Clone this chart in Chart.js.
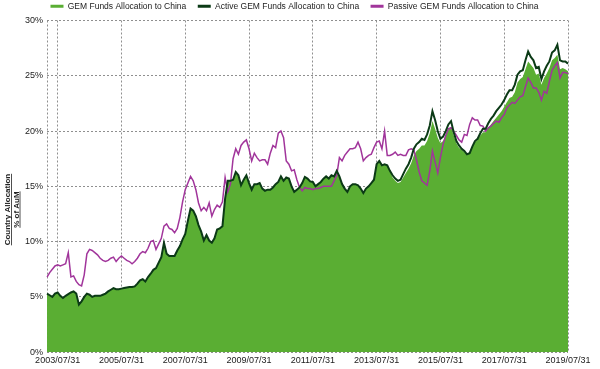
<!DOCTYPE html>
<html lang="en">
<head>
<meta charset="UTF-8">
<title>GEM Funds Allocation to China</title>
<script src="https://cdn.jsdelivr.net/npm/chart.js"></script>
<style>
  html, body { margin: 0; padding: 0; background: #fff; }
  .wrap { width: 600px; height: 369px; position: relative; }
</style>
</head>
<body>
<div class="wrap"><canvas id="chart"></canvas></div>
<script>
// monthly month-end data, 2003/03/31 .. 2019/07/31
const startYear = 2003;
const startMonth = 3;
const tickLabels = ['2003/07/31', '2005/07/31', '2007/07/31', '2009/07/31', '2011/07/31',
                    '2013/07/31', '2015/07/31', '2017/07/31', '2019/07/31'];
const axisTitleLines = ['Country Allocation', '% of AuM'];

const gemFunds = [
  5.3,5.15,5.0,5.3,5.4,5.1,4.9,5.1,5.25,5.4,
  5.5,5.3,4.3,4.6,5.0,5.3,5.2,5.0,5.1,5.1,
  5.1,5.2,5.3,5.5,5.65,5.8,5.7,5.7,5.75,5.8,
  5.85,5.9,5.9,5.95,6.2,6.5,6.6,6.4,6.8,7.1,
  7.45,7.6,8.1,8.6,9.9,8.9,8.7,8.7,8.7,9.2,
  9.6,10.2,10.7,11.9,13.0,12.8,12.3,11.5,10.9,10.1,
  10.6,10.1,9.9,10.3,11.1,11.2,11.4,13.9,15.5,15.5,
  15.6,16.3,16.0,15.1,15.6,16.0,15.3,14.7,15.2,15.2,
  15.3,14.8,14.6,14.7,14.7,14.9,15.2,15.4,15.9,15.5,
  15.8,15.7,15.0,14.5,14.7,14.9,15.3,15.85,15.7,15.45,
  15.4,15.0,15.2,15.4,15.7,15.9,15.7,16.0,15.9,16.4,
  15.9,15.2,14.8,14.5,15.0,15.2,15.2,15.1,14.8,14.4,
  14.8,15.0,15.3,15.6,17.0,17.3,16.9,17.0,16.9,16.4,
  15.8,15.5,15.3,15.4,15.8,16.2,16.6,17.1,17.8,18.2,
  18.4,18.7,18.7,19.1,19.8,20.9,20.2,19.4,18.9,19.1,
  19.6,20.1,20.4,19.6,18.9,18.5,18.3,18.1,17.9,18.0,
  18.6,19.0,19.2,19.6,19.9,19.9,20.3,20.6,20.9,21.2,
  21.5,21.8,22.2,22.6,23.0,23.1,23.5,24.4,24.7,24.9,
  25.6,26.3,26.0,25.7,25.1,25.2,24.2,24.8,25.2,25.7,
  26.4,26.6,26.9,25.6,25.7,25.6,25.4
];

const activeGem = [
  5.3,5.15,5.0,5.3,5.4,5.1,4.9,5.1,5.25,5.4,
  5.5,5.3,4.3,4.6,5.0,5.3,5.2,5.0,5.1,5.1,
  5.1,5.2,5.3,5.5,5.65,5.8,5.7,5.7,5.75,5.8,
  5.85,5.9,5.9,5.95,6.2,6.5,6.6,6.4,6.8,7.1,
  7.45,7.6,8.1,8.6,9.9,8.9,8.7,8.7,8.7,9.2,
  9.6,10.2,10.7,11.9,13.0,12.8,12.3,11.5,10.9,10.1,
  10.6,10.1,9.9,10.3,11.1,11.2,11.4,13.9,15.5,15.5,
  15.6,16.3,16.0,15.1,15.6,16.0,15.3,14.7,15.2,15.2,
  15.3,14.8,14.6,14.7,14.7,14.9,15.2,15.4,15.9,15.5,
  15.8,15.7,15.0,14.5,14.7,14.9,15.3,15.85,15.7,15.45,
  15.4,15.0,15.2,15.4,15.7,15.9,15.7,16.0,15.9,16.4,
  15.9,15.2,14.8,14.5,15.0,15.2,15.2,15.1,14.8,14.4,
  14.8,15.0,15.3,15.6,17.0,17.3,16.9,17.0,16.9,16.4,
  16.0,15.7,15.5,15.6,16.1,16.6,17.0,17.6,18.4,18.8,
  19.0,19.3,19.2,19.7,20.5,21.8,21.0,20.0,19.3,19.5,
  20.0,20.6,20.9,19.9,19.1,18.7,18.4,18.2,17.9,18.0,
  18.6,19.1,19.3,19.8,20.2,20.2,20.7,21.1,21.4,21.8,
  22.1,22.4,22.8,23.3,23.7,23.7,24.2,25.1,25.4,25.5,
  26.4,27.2,26.7,26.4,25.7,25.8,24.7,25.4,25.9,26.3,
  27.1,27.3,27.8,26.4,26.3,26.3,26.1
];

const passiveGem = [
  6.8,7.2,7.5,7.8,7.9,7.8,7.9,8.0,9.0,6.8,
  6.9,6.4,6.1,6.0,7.0,8.9,9.3,9.2,9.0,8.8,
  8.5,8.3,8.2,8.3,8.5,8.6,8.2,8.5,8.7,8.5,
  8.3,8.2,8.0,8.2,8.5,8.9,9.1,9.0,9.4,10.0,
  10.1,9.3,9.8,10.3,11.4,11.6,11.2,11.1,10.8,11.2,
  12.2,13.6,14.7,15.3,15.9,15.5,14.7,13.5,12.8,13.1,
  12.8,13.5,12.3,12.9,13.3,13.1,13.6,15.8,14.5,15.2,
  17.5,18.4,17.9,18.7,19.0,19.2,18.4,17.3,18.0,17.6,
  17.3,17.4,17.4,17.0,18.0,18.7,18.5,19.8,20.0,19.4,
  17.3,17.0,16.4,16.5,15.6,14.9,14.6,14.9,14.8,14.8,
  14.7,14.8,14.8,14.9,15.0,15.0,15.0,15.0,15.5,16.0,
  17.6,17.3,17.8,18.1,18.4,18.4,18.5,19.0,18.4,17.3,
  17.6,17.8,17.9,18.5,19.0,19.1,18.4,20.0,17.8,17.8,
  17.9,18.1,17.8,17.9,17.8,17.8,18.3,18.4,18.3,17.4,
  16.3,15.5,15.3,15.1,16.4,18.2,17.2,16.2,17.6,18.8,
  19.6,20.2,20.3,20.0,19.6,19.2,19.0,19.7,19.6,20.6,
  21.2,21.0,21.0,20.5,20.45,20.0,20.3,20.45,20.7,20.9,
  20.8,21.2,21.5,22.1,22.35,22.6,22.5,22.8,23.1,23.2,
  24.0,24.8,24.4,23.9,23.9,23.5,22.8,23.6,23.4,24.5,
  25.5,25.9,26.2,24.8,25.3,25.3,25.2
];

// month-end category labels
const months = [];
for (let i = 0; i < activeGem.length; i++) {
  const y = startYear + Math.floor((startMonth - 1 + i) / 12);
  const m = (startMonth - 1 + i) % 12 + 1;
  const d = new Date(y, m, 0).getDate();
  months.push(y + '/' + String(m).padStart(2, '0') + '/' + String(d).padStart(2, '0'));
}

const gridGrey = '#8f8f8f';
const textCol = '#222';
const fontFam = "'Liberation Sans', Arial, sans-serif";

// rotated, underlined y axis title, sitting a bit below the middle like the original
const axisTitle = {
  id: 'axisTitle',
  afterDraw(chart) {
    const ctx = chart.ctx;
    const area = chart.chartArea;
    const cy = area.top + (area.bottom - area.top) * 0.57;
    ctx.save();
    ctx.font = 'bold 8px ' + fontFam;
    ctx.fillStyle = textCol;
    ctx.strokeStyle = textCol;
    ctx.lineWidth = 0.8;
    ctx.textAlign = 'center';
    ctx.textBaseline = 'alphabetic';
    axisTitleLines.forEach((t, k) => {
      const x = 10 + k * 8.5;
      ctx.save();
      ctx.translate(x, cy);
      ctx.rotate(-Math.PI / 2);
      ctx.fillText(t, 0, 0);
      const w = ctx.measureText(t).width;
      ctx.beginPath();
      ctx.moveTo(-w / 2, 1.5);
      ctx.lineTo(w / 2, 1.5);
      ctx.stroke();
      ctx.restore();
    });
    ctx.restore();
  }
};

const legendGap = '    ';

new Chart(document.getElementById('chart'), {
  type: 'line',
  data: {
    labels: months,
    datasets: [
      {
        label: 'GEM Funds Allocation to China',
        data: gemFunds,
        borderWidth: 0,
        borderColor: '#5aae33',
        backgroundColor: '#5aae33',
        fill: 'origin',
        pointRadius: 0
      },
      {
        label: 'Active GEM Funds Allocation to China',
        data: activeGem,
        borderColor: '#0b3a16',
        backgroundColor: '#0b3a16',
        borderWidth: 2,
        fill: false,
        pointRadius: 0
      },
      {
        label: 'Passive GEM Funds Allocation to China',
        data: passiveGem,
        borderColor: '#a1359b',
        backgroundColor: '#a1359b',
        borderWidth: 1.5,
        fill: false,
        pointRadius: 0
      }
    ]
  },
  plugins: [axisTitle],
  options: {
    responsive: true,
    maintainAspectRatio: false,
    animation: false,
    layout: { padding: { left: 21, right: 32, top: 0, bottom: 0 } },
    plugins: {
      filler: { drawTime: 'beforeDatasetsDraw' },
      tooltip: { enabled: false },
      legend: {
        position: 'top',
        labels: {
          boxWidth: 13,
          boxHeight: 3,
          padding: 2,
          color: textCol,
          font: { family: fontFam, size: 8.5 },
          generateLabels: function(chart) {
            const n = chart.data.datasets.length;
            return chart.data.datasets.map((ds, i) => ({
              text: ds.label + (i < n - 1 ? legendGap : ''),
              fillStyle: ds.borderColor,
              strokeStyle: ds.borderColor,
              lineWidth: 0,
              fontColor: textCol,
              datasetIndex: i
            }));
          }
        }
      }
    },
    scales: {
      x: {
        afterBuildTicks: function(axis) {
          axis.ticks = axis.ticks.filter(t => t.value === 0 || tickLabels.includes(months[t.value]));
        },
        grid: { color: gridGrey, lineWidth: 1, drawTicks: false },
        border: { display: false, dash: [2, 2] },
        ticks: {
          autoSkip: false,
          maxRotation: 0,
          padding: 3,
          color: textCol,
          font: { family: fontFam, size: 9 },
          callback: function(value) {
            const lab = months[value];
            return tickLabels.includes(lab) ? lab : '';
          }
        }
      },
      y: {
        min: 0,
        max: 30,
        grid: { color: gridGrey, lineWidth: 1, drawTicks: false },
        border: { display: false, dash: [2, 2] },
        ticks: {
          stepSize: 5,
          padding: 4,
          color: textCol,
          font: { family: fontFam, size: 9 },
          callback: v => v + '%'
        }
      }
    }
  }
});
</script>
</body>
</html>
